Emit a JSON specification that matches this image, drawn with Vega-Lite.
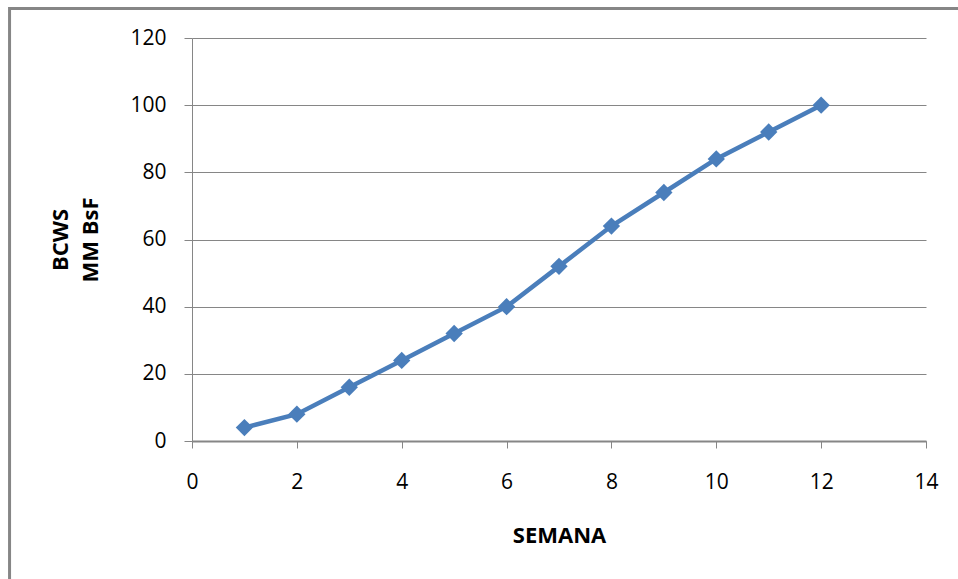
{
  "$schema": "https://vega.github.io/schema/vega-lite/v6.json",
  "autosize": {"type": "none"},
  "padding": {"left": 192, "top": 38, "right": 32, "bottom": 138},
  "width": 734,
  "height": 403,
  "background": "white",
  "config": {
    "view": {"stroke": null},
    "font": "Open Sans",
    "axis": {
      "labelFont": "Open Sans",
      "labelFontSize": 21,
      "labelColor": "#000000",
      "titleFont": "Open Sans",
      "titleFontSize": 22,
      "titleFontWeight": "bold",
      "titleColor": "#000000",
      "domainColor": "#868686",
      "tickColor": "#868686",
      "gridColor": "#868686",
      "gridOpacity": 1
    }
  },
  "data": {
    "values": [
      {"semana": 1, "bcws": 4},
      {"semana": 2, "bcws": 8},
      {"semana": 3, "bcws": 16},
      {"semana": 4, "bcws": 24},
      {"semana": 5, "bcws": 32},
      {"semana": 6, "bcws": 40},
      {"semana": 7, "bcws": 52},
      {"semana": 8, "bcws": 64},
      {"semana": 9, "bcws": 74},
      {"semana": 10, "bcws": 84},
      {"semana": 11, "bcws": 92},
      {"semana": 12, "bcws": 100}
    ]
  },
  "layer": [
    {
      "mark": {"type": "rect", "filled": false, "fill": null, "stroke": "#868686", "strokeWidth": 3, "clip": false},
      "data": {"values": [{"a": 1}]},
      "encoding": {
        "x": {"datum": -3.48, "type": "quantitative", "scale": {"domain": [0, 14]}},
        "x2": {"datum": 17},
        "y": {"datum": 128.8, "type": "quantitative", "scale": {"domain": [0, 120]}},
        "y2": {"datum": -50}
      }
    },
    {
      "mark": {"type": "line", "color": "#4a7ebb", "strokeWidth": 4.5},
      "encoding": {
        "x": {
          "field": "semana", "type": "quantitative",
          "scale": {"domain": [0, 14], "nice": false},
          "axis": {
            "title": "SEMANA", "values": [0, 2, 4, 6, 8, 10, 12, 14],
            "grid": false, "domainWidth": 2, "tickSize": 7, "tickWidth": 1,
            "labelFlush": false,
            "labelPadding": 23, "titlePadding": 33
          }
        },
        "y": {
          "field": "bcws", "type": "quantitative",
          "scale": {"domain": [0, 120], "nice": false},
          "axis": {
            "title": ["BCWS", "MM BsF"], "values": [0, 20, 40, 60, 80, 100, 120],
            "grid": true, "gridWidth": 1, "domainWidth": 1, "tickSize": 8,
            "labelPadding": 18, "titlePadding": 27, "titleLineHeight": 30
          }
        }
      }
    },
    {
      "mark": {"type": "point", "shape": "diamond", "filled": true, "color": "#4a7ebb", "size": 300, "opacity": 1},
      "encoding": {
        "x": {"field": "semana", "type": "quantitative"},
        "y": {"field": "bcws", "type": "quantitative"}
      }
    }
  ]
}
